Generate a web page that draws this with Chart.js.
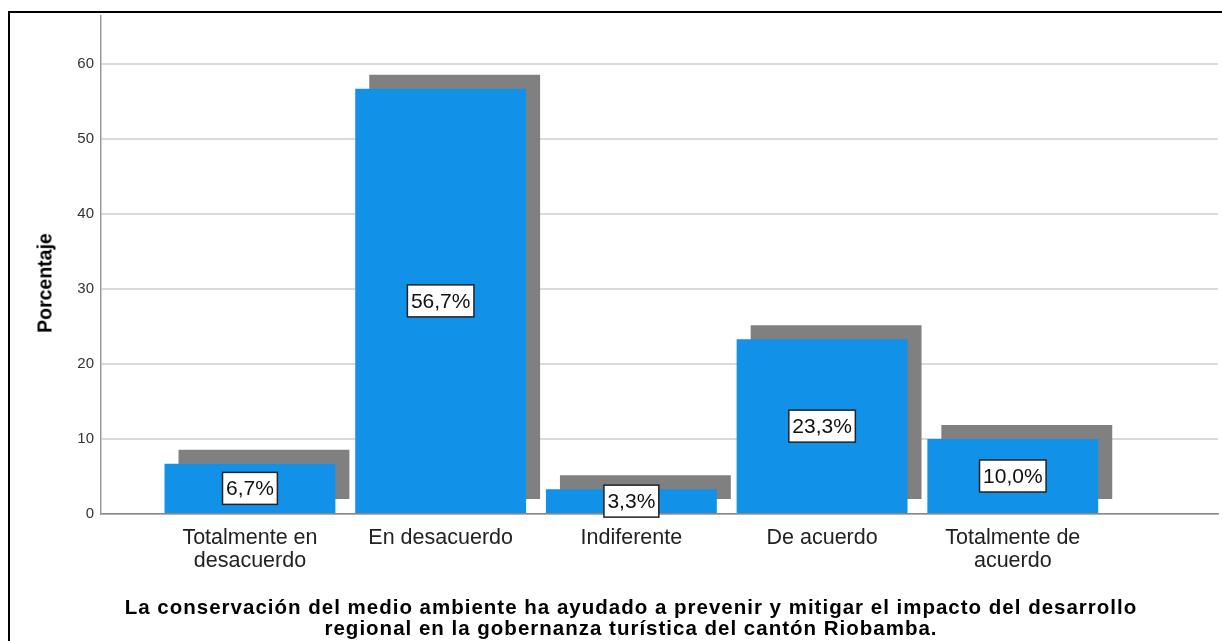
<!DOCTYPE html>
<html>
<head>
<meta charset="utf-8">
<script src="https://cdn.jsdelivr.net/npm/chart.js@4.4.1/dist/chart.umd.min.js"></script>
<style>
    body { margin: 0; background: #fff; overflow: hidden; width: 1222px; height: 641px; position: relative; font-family: "Liberation Sans", Arial, sans-serif; }
    #frame { position: absolute; left: 8px; top: 11px; width: 1300px; height: 700px; border: 2px solid #000; }
    #myChart { position: absolute; left: 0; top: 0; }
    #yTitle { position: absolute; left: 45px; top: 283px; transform: translate(-50%, -50%) rotate(-90deg); font-weight: bold; font-size: 19.5px; white-space: nowrap; color: #000; }
    #xTitle { position: absolute; left: 81px; width: 1100px; top: 596px; text-align: center; font-weight: bold; font-size: 20.5px; letter-spacing: 1px; line-height: 21px; color: #000; white-space: nowrap; }
</style>
</head>
<body>
<div id="frame"></div>
<canvas id="myChart" width="1222" height="641"></canvas>
<div id="yTitle">Porcentaje</div>
<div id="xTitle">La conservación del medio ambiente ha ayudado a prevenir y mitigar el impacto del desarrollo<br>regional en la gobernanza turística del cantón Riobamba.</div>
<script>
// chart data
var categories = ['Totalmente en desacuerdo', 'En desacuerdo', 'Indiferente', 'De acuerdo', 'Totalmente de acuerdo'];
var tickLabels = [['Totalmente en', 'desacuerdo'], ['En desacuerdo'], ['Indiferente'], ['De acuerdo'], ['Totalmente de', 'acuerdo']];
var positions = [1, 2, 3, 4, 5];
var percentages = [6.7, 56.7, 3.3, 23.3, 10.0];

document.addEventListener('DOMContentLoaded', function () {
    var ctx = document.getElementById('myChart').getContext('2d');

    // grey "depth" block behind each bar
    var shadowPlugin = {
        id: 'barShadow',
        beforeDatasetsDraw: function (chart) {
            var c = chart.ctx;
            var meta = chart.getDatasetMeta(0);
            c.save();
            c.fillStyle = '#808080';
            meta.data.forEach(function (bar) {
                var p = bar.getProps(['x', 'y', 'base', 'width'], true);
                c.fillRect(p.x - p.width / 2 + 14, p.y - 14, p.width, p.base - p.y);
            });
            c.restore();
        }
    };

    // boxed percentage labels in the middle of the bars
    var labelPlugin = {
        id: 'boxLabels',
        afterDatasetsDraw: function (chart) {
            var c = chart.ctx;
            var meta = chart.getDatasetMeta(0);
            c.save();
            c.font = '21px "Liberation Sans", Arial, sans-serif';
            c.textAlign = 'center';
            c.textBaseline = 'middle';
            meta.data.forEach(function (bar, i) {
                var p = bar.getProps(['x', 'y', 'base'], true);
                var txt = percentages[i].toFixed(1).replace('.', ',') + '%';
                var w = c.measureText(txt).width + 7;
                var h = 32;
                var cy = (p.y + p.base) / 2;
                c.fillStyle = '#fff';
                c.fillRect(p.x - w / 2, cy - h / 2, w, h);
                c.strokeStyle = '#222';
                c.lineWidth = 1.5;
                c.strokeRect(p.x - w / 2, cy - h / 2, w, h);
                c.fillStyle = '#111';
                c.fillText(txt, p.x, cy + 1);
            });
            c.restore();
        }
    };

    var myChart = new Chart(ctx, {
        type: 'bar',
        data: {
            labels: categories,
            datasets: [{
                label: 'Porcentaje',
                data: positions.map(function (x, i) { return { x: x, y: percentages[i] }; }),
                backgroundColor: '#1192e8',
                borderWidth: 0,
                barPercentage: 0.896,
                categoryPercentage: 1
            }]
        },
        options: {
            responsive: false,
            animation: false,
            layout: { padding: { top: 15, right: 4, left: 0, bottom: 0 } },
            plugins: {
                legend: { display: false },
                tooltip: { enabled: false }
            },
            scales: {
                x: {
                    type: 'linear',
                    offset: false,
                    min: 0.219,
                    max: 6.076,
                    afterBuildTicks: function (scale) {
                        scale.ticks = positions.map(function (v) { return { value: v }; });
                    },
                    afterFit: function (scale) { scale.height = 127; },
                    ticks: {
                        autoSkip: false,
                        maxRotation: 0,
                        padding: 12,
                        color: '#222',
                        font: { family: '"Liberation Sans", Arial, sans-serif', size: 21.5, lineHeight: 1.08 },
                        callback: function (v) { return tickLabels[v - 1]; }
                    },
                    grid: { offset: false, drawOnChartArea: false, drawTicks: false },
                    border: { color: '#888', width: 1.5 }
                },
                y: {
                    min: 0,
                    max: 66.4,
                    afterFit: function (scale) { scale.width = 101; },
                    ticks: {
                        stepSize: 10,
                        includeBounds: false,
                        padding: 7,
                        color: '#333',
                        font: { family: '"Liberation Sans", Arial, sans-serif', size: 15 }
                    },
                    grid: { color: '#dadada', lineWidth: 2, drawTicks: false },
                    border: { color: '#999', width: 1.5 }
                }
            }
        },
        plugins: [shadowPlugin, labelPlugin]
    });
});
</script>
</body>
</html>
